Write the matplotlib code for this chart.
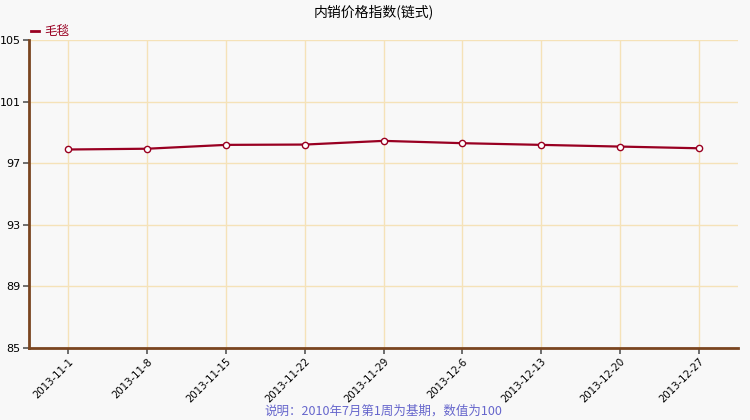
import matplotlib
matplotlib.use('Agg')
import matplotlib.pyplot as plt

plt.rcParams['font.family'] = ['Noto Sans CJK SC', 'DejaVu Sans']

# data
dates = ['2013-11-1', '2013-11-8', '2013-11-15', '2013-11-22', '2013-11-29',
         '2013-12-6', '2013-12-13', '2013-12-20', '2013-12-27']
values = [97.89, 97.94, 98.19, 98.21, 98.45, 98.30, 98.19, 98.08, 97.97]
series_name = '毛毯'
y_ticks = [85, 89, 93, 97, 101, 105]

bg = '#f8f8f8'
fig = plt.figure(figsize=(7.5, 4.2), dpi=100, facecolor=bg)
ax = fig.add_axes([29 / 750, 1 - 348 / 420, 709 / 750, 308 / 420])
ax.set_facecolor(bg)

x = list(range(len(dates)))
ax.plot(x, values, color='#990022', lw=1.6, marker='o', ms=4.5,
        mfc='white', mec='#990022', mew=1.0, zorder=3)

ax.set_xlim(-0.5, len(dates) - 0.5)
ax.set_ylim(85, 105)
ax.set_yticks(y_ticks)
ax.set_xticks(x)
ax.set_xticklabels(dates, rotation=45, ha='right', rotation_mode='anchor',
                   fontsize=7.3, family='DejaVu Sans')
ax.set_yticklabels([str(v) for v in y_ticks], fontsize=8, family='DejaVu Sans')

ax.grid(True, color='#f5e2b8', lw=1)
ax.set_axisbelow(True)
for s in ['top', 'right']:
    ax.spines[s].set_visible(False)
for s in ['left', 'bottom']:
    ax.spines[s].set_color('#7a4520')
    ax.spines[s].set_linewidth(2)
ax.tick_params(axis='both', colors='#555555', length=4, width=1.2, labelcolor='black', pad=2)

fig.text(374 / 750, 1 - 12 / 420, '内销价格指数(链式)', ha='center', va='center', fontsize=10)
fig.text(44 / 750, 1 - 31 / 420, series_name, ha='left', va='center', fontsize=9, color='#990022')
fig.lines.append(plt.Line2D([31 / 750, 39 / 750], [1 - 31 / 420, 1 - 31 / 420],
                            transform=fig.transFigure, color='#990022', lw=2))
fig.text(383 / 750, 1 - 411 / 420, '说明：2010年7月第1周为基期，数值为100',
         ha='center', va='center', fontsize=9, color='#6666cc')

fig.savefig('out.png', dpi=100, facecolor=bg)
